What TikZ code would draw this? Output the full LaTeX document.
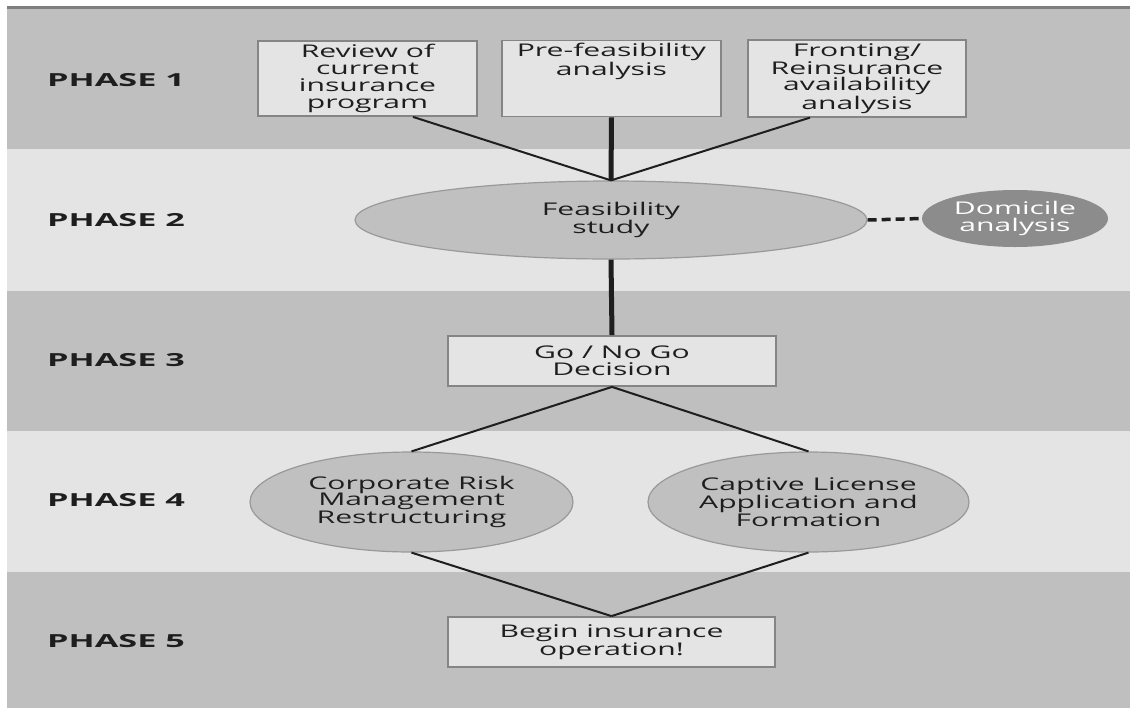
\documentclass[tikz,border=0pt]{standalone}
\usepackage{fontspec}
\usepackage{tikz}
\usetikzlibrary{shapes.geometric}
\newfontfamily\diagfont[FakeStretch=1.72]{Open Sans}
\newfontfamily\phasefont[FakeStretch=1.9]{Open Sans}
\definecolor{banddark}{HTML}{BFBFBF}
\definecolor{bandlight}{HTML}{E4E4E4}
\definecolor{rulegray}{HTML}{7F7F7F}
\definecolor{boxframe}{HTML}{858585}
\definecolor{ovalfill}{HTML}{C0C0C0}
\definecolor{ovalframe}{HTML}{999999}
\definecolor{domfill}{HTML}{8C8C8C}
\definecolor{ink}{HTML}{1E1E1E}
\tikzset{phase/.style = {anchor = west, inner sep = 0pt, text = ink, font = \phasefont\bfseries\fontsize{18}{20}\selectfont}}
\tikzset{stepbox/.style = {shape = rectangle, draw = boxframe, line width = 1.8pt, fill = bandlight, text = ink, align = center, inner sep = 3pt, font = \diagfont\fontsize{17.5}{16.8}\selectfont}}
\tikzset{oval/.style = {shape = ellipse, draw = ovalframe, line width = 1.2pt, fill = ovalfill, text = ink, align = center, inner sep = 0pt, font = \diagfont\fontsize{17.5}{16.8}\selectfont}}
\tikzset{edge/.style = {-, line width = 2pt, draw = ink}}
\tikzset{trunk/.style = {-, line width = 5pt, draw = ink}}

\begin{document}
\begin{tikzpicture}[x = 1pt, y = -1pt]
	\useasboundingbox (0, 0) rectangle (1130, 710);

	% bands
	\fill[banddark] (7, 8.5) rectangle (1130, 149);
	\fill[bandlight] (7, 149) rectangle (1130, 291);
	\fill[banddark] (7, 291) rectangle (1130, 431);
	\fill[bandlight] (7, 431) rectangle (1130, 572);
	\fill[banddark] (7, 572) rectangle (1130, 708);
	\draw[rulegray, line width = 3pt] (7, 7) -- (1130, 7);

	\node[phase] (p1) at (47, 80) {PHASE 1};
	\node[phase] (p2) at (47, 220) {PHASE 2};
	\node[phase] (p3) at (47, 360) {PHASE 3};
	\node[phase] (p4) at (47, 500) {PHASE 4};
	\node[phase] (p5) at (47, 641) {PHASE 5};

	\node[stepbox, minimum width = 219pt, minimum height = 75pt] (rev) at (367.5, 78.5) {Review of\\current\\insurance\\program};
	\node[stepbox, minimum width = 219pt, minimum height = 75pt, text depth = 38pt] (pre) at (611.5, 78.5) {Pre-feasibility\\analysis};
	\node[stepbox, minimum width = 218pt, minimum height = 75pt] (front) at (857, 78.5) {Fronting/\\Reinsurance\\availability\\analysis};

	\node[oval, minimum width = 512pt, minimum height = 78pt] (feas) at (611, 220) {Feasibility\\study};
	\node[oval, draw = none, fill = domfill, text = white, minimum width = 186pt, minimum height = 57pt] (dom) at (1015, 218.5) {Domicile\\analysis};

	\node[stepbox, minimum width = 328pt, minimum height = 50pt] (go) at (612, 361) {Go / No Go\\Decision};

	\node[oval, minimum width = 323pt, minimum height = 100pt] (crm) at (411.5, 502) {Corporate Risk\\Management\\Restructuring};
	\node[oval, minimum width = 321pt, minimum height = 100pt] (cla) at (808.5, 502) {Captive License\\Application and\\Formation};

	\node[stepbox, minimum width = 327pt, minimum height = 50pt] (op) at (611.5, 642) {Begin insurance\\operation!};

	\draw[edge] ([xshift = 45.5pt]rev.south) to (feas.north);
	\draw[trunk] (pre.south) to (feas.north);
	\draw[edge] ([xshift = -47pt]front.south) to (feas.north);
	\draw[trunk] (feas.south) to (go.north);
	\draw[ink, line width = 3.5pt, dash pattern = on 9pt off 5pt] (feas.east) to (dom.west);
	\draw[edge] (go.south) to (crm.north);
	\draw[edge] (go.south) to (cla.north);
	\draw[edge] (crm.south) to (op.north);
	\draw[edge] (cla.south) to (op.north);
\end{tikzpicture}
\end{document}
